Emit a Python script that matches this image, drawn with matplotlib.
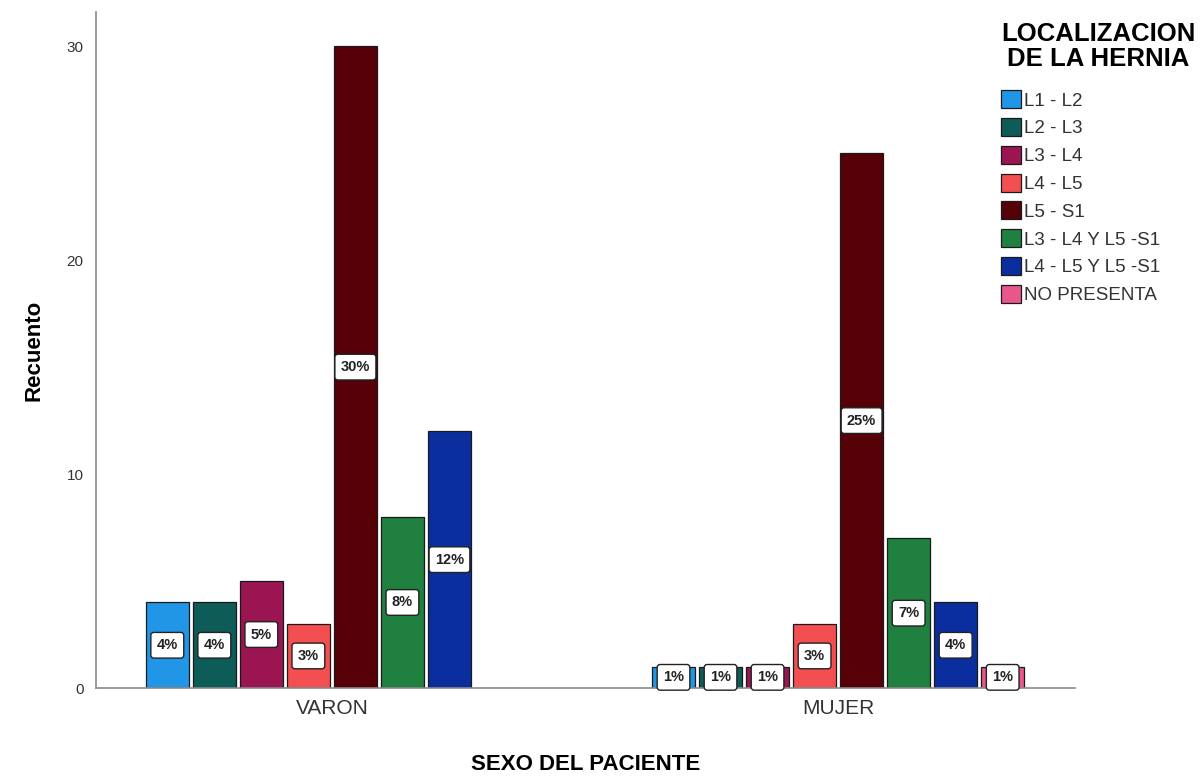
import matplotlib

matplotlib.use("Agg")
import matplotlib.pyplot as plt
import numpy as np

plt.rcParams["font.family"] = ["Liberation Sans", "DejaVu Sans"]

groups = ["VARON", "MUJER"]
categories = ["L1 - L2", "L2 - L3", "L3 - L4", "L4 - L5", "L5 - S1",
              "L3 - L4 Y L5 -S1", "L4 - L5 Y L5 -S1", "NO PRESENTA"]
counts_varon = [4, 4, 5, 3, 30, 8, 12, 0]
counts_mujer = [1, 1, 1, 3, 25, 7, 4, 1]
pct_varon = ["4%", "4%", "5%", "3%", "30%", "8%", "12%", ""]
pct_mujer = ["1%", "1%", "1%", "3%", "25%", "7%", "4%", "1%"]
colors = ["#2196e6", "#0d5c58", "#9b1553", "#f44f50", "#560008",
          "#1f8040", "#0b2e9e", "#e8578c"]

counts = np.array([counts_varon, counts_mujer], dtype=float)
pcts = [pct_varon, pct_mujer]

fig = plt.figure(figsize=(12.03, 7.84), dpi=100)
ax = fig.add_axes([0.0798, 0.1224, 0.8138, 0.8623])

slot = 0.0929
width = 0.085
handles = []
for i, cat in enumerate(categories):
    xs = np.arange(len(groups)) + (i - 3.5) * slot
    bars = ax.bar(xs, counts[:, i], width=width, color=colors[i],
                  edgecolor="#1a1a1a", linewidth=0.9, label=cat)
    handles.append(bars)
    for g in range(len(groups)):
        v = counts[g, i]
        if v <= 0:
            continue
        ax.text(xs[g], v / 2, pcts[g][i], ha="center", va="center",
                fontsize=10.5, fontweight="bold", color="#222222",
                bbox=dict(boxstyle="round,pad=0.4,rounding_size=0.2",
                          facecolor="white", edgecolor="#222222", linewidth=1.0))

ax.set_xlim(-0.466, 1.468)
ax.set_ylim(0, 31.6)
ax.set_yticks([0, 10, 20, 30])
ax.set_xticks(range(len(groups)))
ax.set_xticklabels(groups, fontsize=15, color="#333333")
ax.tick_params(axis="y", labelsize=11, colors="#333333", length=0, pad=9)
ax.tick_params(axis="x", length=0, pad=8)
for s in ["top", "right"]:
    ax.spines[s].set_visible(False)
for s in ["left", "bottom"]:
    ax.spines[s].set_color("#8a8a8a")
    ax.spines[s].set_linewidth(1.2)

ax.set_ylabel("Recuento", fontsize=16, fontweight="bold", labelpad=16)
fig.text(0.487, 0.012, "SEXO DEL PACIENTE", fontsize=16, fontweight="bold",
         ha="center", va="bottom")

leg = fig.legend(handles=handles, labels=categories, loc="upper left",
                 bbox_to_anchor=(0.821, 0.989), frameon=False, fontsize=13.5,
                 title="LOCALIZACION\nDE LA HERNIA",
                 title_fontproperties={"weight": "bold", "size": 18.5},
                 handlelength=1.1, handleheight=1.1, handletextpad=0.15,
                 labelspacing=0.45, borderpad=0.2)
leg._legend_box.align = "left"
leg._legend_box.sep = 14
leg.get_title().set_multialignment("center")
leg.get_title().set_linespacing(1.05)
for t in leg.get_texts():
    t.set_color("#333333")

fig.savefig("out.png", dpi=100)
plt.close(fig)
